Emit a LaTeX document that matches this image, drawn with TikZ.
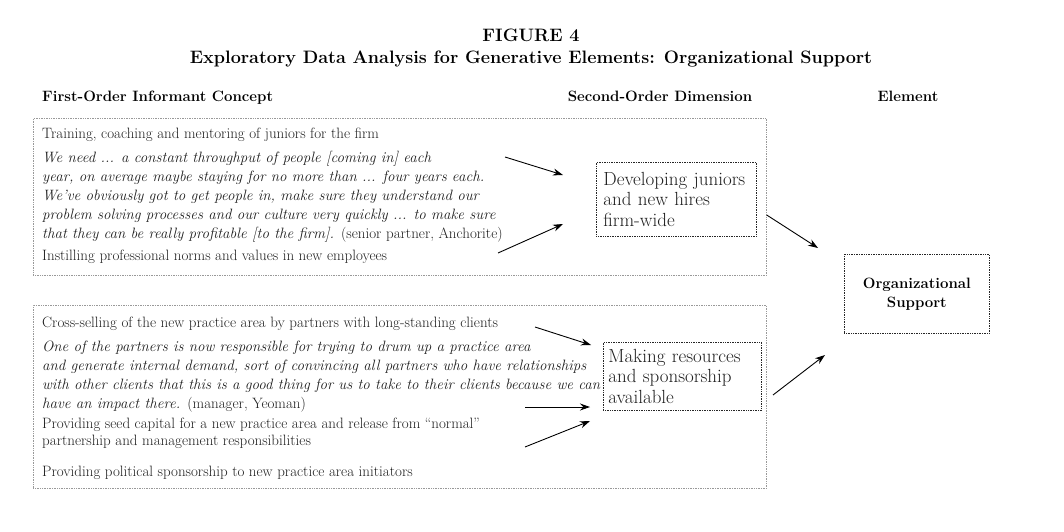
\documentclass[tikz,border=0pt]{standalone}
\usepackage{fontspec}
\usetikzlibrary{arrows.meta}
\begin{document}
\begin{tikzpicture}[x=1pt,y=-1pt,
  outerbox/.style={draw=black!40, densely dotted, line width=0.7pt, inner sep=0pt, anchor=north west},
  innerbox/.style={draw=black!85, densely dotted, line width=0.7pt, anchor=north west, align=left, inner sep=0pt},
  arr/.style={-{Stealth[length=10pt,width=7pt]}, line width=0.9pt},
  body/.style={font=\fontsize{15}{19}\selectfont, align=left, inner sep=0pt, anchor=base west, text=black!88},
  quote/.style={body, font=\fontsize{15}{19}\selectfont\itshape},
  dimtext/.style={font=\fontsize{19}{20.5}\selectfont, text=black!88},
  headtext/.style={font=\fontsize{15}{17}\selectfont\bfseries, inner sep=0pt, anchor=base},
  titletext/.style={font=\fontsize{18}{20}\selectfont\bfseries, inner sep=0pt, anchor=base}
]
\useasboundingbox[fill=white] (0,0) rectangle (1064,532);

% titles
\node[titletext] (fig) at (531,42) {FIGURE 4};
\node[titletext] (sub) at (531,64) {Exploratory Data Analysis for Generative Elements: Organizational Support};

% headers
\node[headtext, anchor=base west] (h1) at (42,102) {First-Order Informant Concept};
\node[headtext] (h2) at (660,102) {Second-Order Dimension};
\node[headtext] (h3) at (908,102) {Element};

% outer boxes
\node[outerbox, minimum width=733pt, minimum height=157pt] (box1) at (33,118) {};
\node[outerbox, minimum width=733pt, minimum height=183pt] (box2) at (33,305) {};

% top box text (multi-line nodes are placed by the baseline of their last line)
\node[body] (t1) at (42,138) {Training, coaching and mentoring of juniors for the firm};
\node[quote] (q1) at (42,238) {We need ... a constant throughput of people [coming in] each\\
year, on average maybe staying for no more than ... four years each.\\
We've obviously got to get people in, make sure they understand our\\
problem solving processes and our culture very quickly ... to make sure\\
that they can be really profitable [to the firm]. {\upshape(senior partner, Anchorite)}};
\node[body] (t2) at (42,260) {Instilling professional norms and values in new employees};

% bottom box text
\node[body] (t3) at (42,327) {Cross-selling of the new practice area by partners with long-standing clients};
\node[quote] (q2) at (42,408) {One of the partners is now responsible for trying to drum up a practice area\\
and generate internal demand, sort of convincing all partners who have relationships\\
with other clients that this is a good thing for us to take to their clients because we can\\
have an impact there. {\upshape(manager, Yeoman)}};
\node[body, font=\fontsize{15}{17}\selectfont] (t4) at (42,445) {Providing seed capital for a new practice area and release from ``normal''\\
partnership and management responsibilities};
\node[body] (t5) at (42,476) {Providing political sponsorship to new practice area initiators};

% second-order boxes
\node[innerbox, minimum width=157pt, minimum height=74pt, text width=146pt, dimtext, inner xsep=7pt] (dev) at (596,162) {Developing juniors\\and new hires\\firm-wide};
\node[innerbox, minimum width=157pt, minimum height=68pt, text width=148pt, dimtext, inner xsep=5pt] (mak) at (603,342) {Making resources\\and sponsorship\\available};

% element box
\node[innerbox, minimum width=145pt, minimum height=79pt, align=center, font=\fontsize{15}{19}\selectfont\bfseries] (org) at (844,254) {Organizational\\Support};

% connectors
\coordinate (a1s) at (505,157); \coordinate (a1e) at (563,175);
\coordinate (a2s) at (498,253); \coordinate (a2e) at (563,224);
\coordinate (a3s) at (box1.east |- 0,215); \coordinate (a3e) at (818,248);
\coordinate (b1s) at (535,327); \coordinate (b1e) at (591,345);
\coordinate (b2s) at (525,407); \coordinate (b2e) at (590,407);
\coordinate (b3s) at (525,447); \coordinate (b3e) at (590,421);
\coordinate (b4s) at (773,395); \coordinate (b4e) at (825,355);
\draw[arr] (a1s) -- (a1e);
\draw[arr] (a2s) -- (a2e);
\draw[arr] (a3s) -- (a3e);
\draw[arr] (b1s) -- (b1e);
\draw[arr] (b2s) -- (b2e);
\draw[arr] (b3s) -- (b3e);
\draw[arr] (b4s) -- (b4e);
\end{tikzpicture}
\end{document}
